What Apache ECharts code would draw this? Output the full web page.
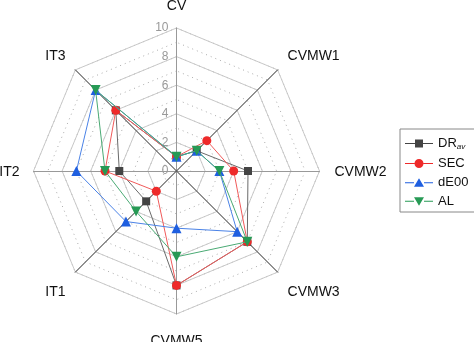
<!DOCTYPE html>
<html><head><meta charset="utf-8">
<script src="https://cdn.jsdelivr.net/npm/echarts@6/dist/echarts.min.js"></script>
<style>html,body{margin:0;padding:0;background:#fff}#c{width:474px;height:342px}</style>
</head><body><div id="c"></div>
<script>
const categories = ['CV','CVMW1','CVMW2','CVMW3','CVMW5','IT1','IT2','IT3'];
const DRav = [1,2,5,7,8,3,4,6];
const SEC  = [1,3,4,7,8,2,5,6];
const dE00 = [1,2,3,6,4,5,7,8];
const AL   = [1,2,3,7,6,4,5,8];
const tickLabels = [0,2,4,6,8,10];
const seriesNames = ['DRav','SEC','dE00','AL'];

// ECharts radar lays indicators counter-clockwise; reorder to show them clockwise
const order = [0,7,6,5,4,3,2,1];
const re = arr => order.map(i => arr[i]);

const C = [176.5,171], R = 143;
const markerColors = ['#444444','#ee2a2a','#1f5fe0','#279a55'];
const lineColors = ['#6a6a6a','#f05a5a','#4a82e6','#4aaa74'];
const symbols = ['rect','circle','triangle','path://M0,0L10,0L5,9Z'];
const sizes = [8,9,10,10];
const icons = [
 'path://M0,4.5H10V5.5H0Z M10,1H18V9H10Z M18,4.5H28V5.5H18Z',
 'path://M0,4.5H9.5V5.5H0Z M18.5,5A4.5,4.5,0,1,1,9.5,5A4.5,4.5,0,1,1,18.5,5Z M18.5,4.5H28V5.5H18.5Z',
 'path://M0,4.5H9V5.5H0Z M9,9L14,0.5L19,9Z M19,4.5H28V5.5H19Z',
 'path://M0,4.5H9V5.5H0Z M9,1L19,1L14,9.5Z M19,4.5H28V5.5H19Z'
];
const vals = [DRav,SEC,dE00,AL];
const nameStyle = {CV:'top', CVMW1:'up', IT3:'up', CVMW3:'down', IT1:'down', CVMW5:'bot', CVMW2:'mid', IT2:'mid'};

const chart = echarts.init(document.getElementById('c'));
const ind = re(categories).map(n => ({name:n, min:0, max:10}));
chart.setOption({
 animation:false,
 textStyle:{fontFamily:'Liberation Sans, Arial, sans-serif'},
 legend:{
  orient:'vertical', left:400, top:129,
  padding:[8,14,4,5], itemGap:6, itemWidth:28, itemHeight:10,
  borderColor:'#888', borderWidth:1,
  data: seriesNames.map((n,i)=>({name:n, icon:icons[i]})),
  formatter: n => n==='DRav' ? '{a|DR}{s|av}' : n,
  textStyle:{fontSize:13, color:'#111', rich:{a:{fontSize:13,color:'#111'}, s:{fontSize:8,fontStyle:'italic',color:'#111',padding:[7,0,0,0]}}}
 },
 radar:[
  {center:C, radius:R, startAngle:90, splitNumber:10, shape:'polygon',
   indicator: ind.map(o=>({name:'',min:0,max:10})),
   axisName:{show:false},
   axisLine:{show:false}, splitArea:{show:false},
   splitLine:{lineStyle:{color:'#aaa', type:[1,4], width:1}}},
  {center:C, radius:R, startAngle:90, splitNumber:5, shape:'polygon',
   indicator: ind,
   axisName:{color:'#111', fontSize:14,
     formatter: n => '{' + nameStyle[n] + '|' + n + '}',
     rich:{
       top:{fontSize:14,color:'#111',padding:[0,0,1,0]},
       up:{fontSize:14,color:'#111',padding:[0,0,8,0]},
       down:{fontSize:14,color:'#111',padding:[20,0,0,0]},
       bot:{fontSize:14,color:'#111',padding:[6,0,0,0]},
       mid:{fontSize:14,color:'#111',padding:[2,0,0,1]}
     }},
   nameGap:14,
   axisLine:{lineStyle:{color:'#999'}}, splitArea:{show:false},
   splitLine:{lineStyle:{color:'#c8c8c8', width:1}}},
  {center:C, radius:R, startAngle:45, splitNumber:5, shape:'polygon',
   indicator: [0,1,2,3].map(()=>({name:'',min:0,max:10})),
   axisName:{show:false},
   axisLine:{lineStyle:{color:'#555'}}, splitArea:{show:false},
   splitLine:{show:false}}
 ],
 polar:{center:C, radius:R},
 angleAxis:{show:false, startAngle:90},
 radiusAxis:{min:0,max:10,interval:2, axisLine:{show:false}, splitLine:{show:false},
   axisTick:{show:false},
   axisLabel:{color:'#999', fontSize:12, formatter: v => tickLabels.includes(v) ? String(v) : ''}},
 series: seriesNames.map((n,i)=>({
  type:'radar', name:n, radarIndex:1, z:2+i,
  symbol:symbols[i], symbolSize:sizes[i],
  itemStyle:{color:markerColors[i]},
  lineStyle:{color:lineColors[i], width:1},
  data:[{name:n, value:re(vals[i])}]
 }))
});
</script></body></html>
